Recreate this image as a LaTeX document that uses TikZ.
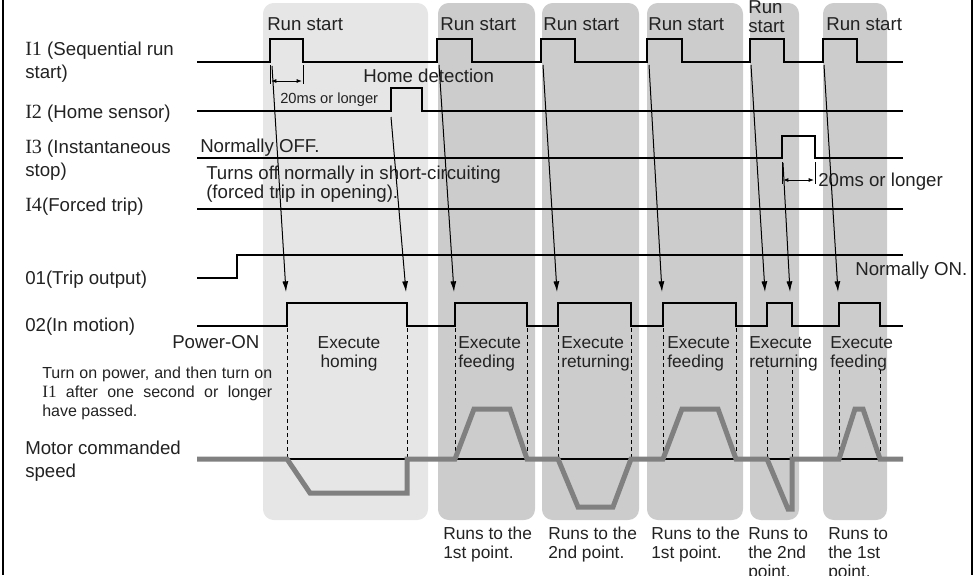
\documentclass[tikz,border=0pt]{standalone}
\usepackage{fontspec}
\setmainfont{Liberation Sans}
\newfontfamily\serifI[Scale=1.08]{Liberation Serif}
\usetikzlibrary{arrows.meta}
\definecolor{boxA}{HTML}{E6E6E6}
\definecolor{boxB}{HTML}{CCCCCC}
\definecolor{spd}{HTML}{808080}
\definecolor{ink}{HTML}{222222}
\newcommand{\srf}[1]{{\serifI #1}}
\begin{document}
\begin{tikzpicture}[x=0.75pt,y=-0.75pt,
  big/.style={inner sep=0pt, text=ink, font=\fontsize{14}{17.25}\selectfont, align=left, anchor=base west},
  bigt/.style={big, font=\fontsize{14}{14.25}\selectfont},
  mid/.style={inner sep=0pt, text=ink, font=\fontsize{13}{14.25}\selectfont, align=left, anchor=base west},
  small/.style={inner sep=0pt, text=ink, font=\fontsize{12}{14.25}\selectfont, align=left, anchor=base west},
  tiny/.style={inner sep=0pt, text=ink, font=\fontsize{11}{12}\selectfont, anchor=base west},
  sig/.style={line width=2pt, line join=miter, draw=black},
  frame/.style={line width=1.1pt},
  cue/.style={line width=0.75pt, -{Latex[length=8pt,width=4.5pt]}},
  dim/.style={line width=0.75pt, {Latex[length=4pt,width=3pt]}-{Latex[length=4pt,width=3pt]}},
  tick/.style={line width=0.75pt},
  guide/.style={line width=0.75pt, dash pattern=on 3pt off 2.25pt},
  speed/.style={line width=3.75pt, draw=spd, line join=miter},
  zero/.style={line width=1pt},
  zoneA/.style={fill=boxA, rounded corners=8pt},
  zoneB/.style={fill=boxB, rounded corners=8pt}]
\useasboundingbox (0,0) rectangle (977,575);
% frame
\draw[frame] (3,0) -- (3,575);
\draw[frame] (972,0) -- (972,575);
% zones
\fill[zoneA] (263,3) rectangle (428,520);
\fill[zoneB] (438,3) rectangle (535,520);
\fill[zoneB] (542,3) rectangle (639,520);
\fill[zoneB] (647,3) rectangle (743,520);
\fill[zoneB] (750,3) rectangle (799,520);
\fill[zoneB] (823,3) rectangle (887,520);
% left labels (base = last line)
\node[big] (lI1) at (25,78) {\srf{I1} (Sequential run\\start)};
\node[big] (lI2) at (25,118) {\srf{I2} (Home sensor)};
\node[big] (lI3) at (25,176) {\srf{I3} (Instantaneous\\stop)};
\node[big] (lI4) at (25,211) {\srf{I4}(Forced trip)};
\node[big] (lO1) at (25,284) {01(Trip output)};
\node[big] (lO2) at (25,331) {02(In motion)};
\node[big] (lsp) at (25,477) {Motor commanded\\speed};
% run start labels
\node[big] (rs1) at (267,30) {Run start};
\node[big] (rs2) at (440,30) {Run start};
\node[big] (rs3) at (543,30) {Run start};
\node[big] (rs4) at (648,30) {Run start};
\node[bigt] (rs5) at (748,32) {Run\\start};
\node[big] (rs6) at (826,30) {Run start};
% annotations
\node[big] (hd) at (363,82) {Home detection};
\node[tiny] (t20a) at (280,103) {20ms or longer};
\node[big] (noff) at (200,152) {Normally OFF.};
\node[big, font=\fontsize{14}{12}\selectfont] (toff) at (206,198) {Turns off normally in short-circuiting\\(forced trip in opening).};
\node[big] (t20b) at (818,186) {20ms or longer};
\node[big] (non) at (855,275) {Normally ON.};
\node[big] (pon) at (172,348) {Power-ON};
\node[small] (para) at (42,416) {\makebox[172.5pt][s]{Turn on power, and then turn on}\\\makebox[172.5pt][s]{\srf{I1} after one second or longer}\\have passed.};
% execute labels
\node[mid, anchor=base, align=center] (ex1) at (349,367) {Execute\\homing};
\node[mid] (ex2) at (458,367) {Execute\\feeding};
\node[mid] (ex3) at (561,367) {Execute\\returning};
\node[mid] (ex4) at (667,367) {Execute\\feeding};
\node[mid] (ex5) at (749,367) {Execute\\returning};
\node[mid] (ex6) at (830,367) {Execute\\feeding};
% runs-to labels
\node[mid] (rt2) at (443,558) {Runs to the\\1st point.};
\node[mid] (rt3) at (548,558) {Runs to the\\2nd point.};
\node[mid] (rt4) at (651,558) {Runs to the\\1st point.};
\node[mid] (rt5) at (748,577) {Runs to\\the 2nd\\point.};
\node[mid] (rt6) at (828,577) {Runs to\\the 1st\\point.};
% guides
\foreach \x in {287,407,455,527,558,631,663,736} \draw[guide] (\x,328) -- (\x,459);
\foreach \x in {767,792,839,880} \draw[guide] (\x,370) -- (\x,459);
% speed
\draw[zero] (287,459) -- (903,459);
\draw[speed] (197,459) -- (287,459) -- (310,493) -- (407,493) -- (407,459) -- (455,459) -- (474,409) -- (510,409) -- (527,459) -- (558,459) -- (578,507) -- (613,507) -- (631,459) -- (663,459) -- (682,409) -- (718,409) -- (736,459) -- (767,459) -- (788,509) -- (792,509) -- (792,459) -- (839,459) -- (855,409) -- (863,409) -- (880,459) -- (903,459);
% signals
\draw[sig] (197,62) -- (270,62) -- (270,39) -- (303,39) -- (303,62) -- (437,62) -- (437,39) -- (472,39) -- (472,62) -- (541,62) -- (541,39) -- (575,39) -- (575,62) -- (647,62) -- (647,39) -- (682,39) -- (682,62) -- (750,62) -- (750,39) -- (784,39) -- (784,62) -- (823,62) -- (823,39) -- (857,39) -- (857,62) -- (903,62);
\draw[sig] (197,111) -- (391,111) -- (391,88) -- (422,88) -- (422,111) -- (903,111);
\draw[sig] (197,158) -- (782,158) -- (782,136) -- (815,136) -- (815,158) -- (903,158);
\draw[sig] (197,209) -- (903,209);
\draw[sig] (197,278) -- (237,278) -- (237,255) -- (903,255);
\draw[sig] (197,326) -- (287,326) -- (287,303) -- (407,303) -- (407,326) -- (455,326) -- (455,303) -- (527,303) -- (527,326) -- (558,326) -- (558,303) -- (631,303) -- (631,326) -- (663,326) -- (663,303) -- (736,303) -- (736,326) -- (767,326) -- (767,303) -- (792,303) -- (792,326) -- (839,326) -- (839,303) -- (880,303) -- (880,326) -- (903,326);
% dimension marks
\coordinate (da1) at (270,65); \coordinate (da2) at (270,84);
\coordinate (db1) at (303,65); \coordinate (db2) at (303,84);
\coordinate (dc) at (271,81); \coordinate (dd) at (302,81);
\draw[tick] (da1) -- (da2); \draw[tick] (db1) -- (db2);
\draw[dim] (dc) -- (dd);
\coordinate (de1) at (782,162); \coordinate (de2) at (782,184);
\coordinate (df1) at (815,162); \coordinate (df2) at (815,184);
\coordinate (dg) at (783,180); \coordinate (dh) at (814,180);
\draw[tick] (de1) -- (de2); \draw[tick] (df1) -- (df2);
\draw[dim] (dg) -- (dh);
% cause arrows
\coordinate (s1) at (272,66); \coordinate (e1) at (286,292);
\coordinate (s2) at (391,117); \coordinate (e2) at (406,292);
\coordinate (s3) at (439,65); \coordinate (e3) at (454,292);
\coordinate (s4) at (543,65); \coordinate (e4) at (557,292);
\coordinate (s5) at (649,65); \coordinate (e5) at (662,292);
\coordinate (s6) at (751,65); \coordinate (e6) at (765,292);
\coordinate (s7) at (783,163); \coordinate (e7) at (790,292);
\coordinate (s8) at (824,65); \coordinate (e8) at (838,292);
\foreach \i in {1,...,8} \draw[cue] (s\i) -- (e\i);
\end{tikzpicture}
\end{document}
